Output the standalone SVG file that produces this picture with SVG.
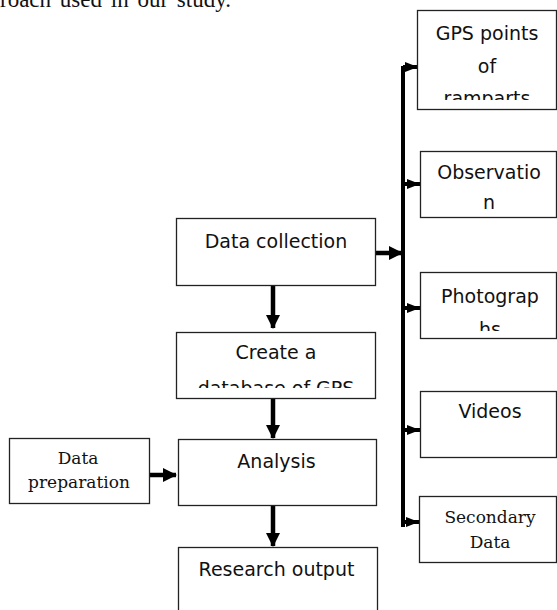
<svg xmlns="http://www.w3.org/2000/svg" width="557" height="610" viewBox="0 0 557 610">
  <style>
    .box { fill: #ffffff; stroke: #222222; stroke-width: 1.3; }
    .lbl { font-family: "DejaVu Sans", "Liberation Sans", sans-serif; font-size: 19px; fill: #111111; text-anchor: middle; }
    .ser { font-family: "DejaVu Serif", "Liberation Serif", serif; font-size: 17px; fill: #111111; text-anchor: middle; }
    .body { font-family: "Liberation Serif", "Times New Roman", serif; font-size: 23px; fill: #111111; word-spacing: 3px; }
    .flow { fill: none; stroke: #000000; stroke-width: 4.5; }
    .bus { fill: none; stroke: #000000; stroke-width: 4; }
  </style>
  <defs>
    <marker id="head" markerUnits="userSpaceOnUse" markerWidth="14" markerHeight="14" refX="13" refY="7" orient="auto">
      <path d="M0,0 L14,7 L0,14 Z" fill="#000000"/>
    </marker>
    <marker id="tick" markerUnits="userSpaceOnUse" markerWidth="13" markerHeight="10" refX="13" refY="5" orient="auto">
      <path d="M0,0 L13,5 L0,10 Z" fill="#000000"/>
    </marker>
    <clipPath id="clip-gps"><rect x="418" y="11" width="138" height="89"/></clipPath>
    <clipPath id="clip-photo"><rect x="421" y="273" width="135" height="58"/></clipPath>
    <clipPath id="clip-db"><rect x="177" y="333" width="197" height="55"/></clipPath>
  </defs>

  <!-- running text line above the figure -->
  <text class="body" x="0" y="7">roach used in our study.</text>

  <g id="connectors">
    <!-- vertical bus feeding the data sources -->
    <path class="bus" d="M403,527 L403,66"/>
    <path class="bus" d="M403,67 L418,67" marker-end="url(#tick)"/>
    <path class="bus" d="M403,184 L420,184" marker-end="url(#tick)"/>
    <path class="bus" d="M403,308 L420,308" marker-end="url(#tick)"/>
    <path class="bus" d="M403,430 L420,430" marker-end="url(#tick)"/>
    <path class="bus" d="M403,522 L419,522" marker-end="url(#tick)"/>
    <!-- main flow -->
    <path class="flow" d="M375,253 L402,253" marker-end="url(#head)"/>
    <path class="flow" d="M273,285 L273,328" marker-end="url(#head)"/>
    <path class="flow" d="M273,398 L273,438" marker-end="url(#head)"/>
    <path class="flow" d="M273,505 L273,546" marker-end="url(#head)"/>
    <path class="flow" d="M149,475 L176,475" marker-end="url(#head)"/>
  </g>

  <g id="gps-points">
    <rect class="box" x="417.5" y="10.5" width="139" height="99"/>
    <g clip-path="url(#clip-gps)">
      <text class="lbl" x="487" y="40">GPS points</text>
      <text class="lbl" x="487" y="73">of</text>
      <text class="lbl" x="487" y="105">ramparts</text>
    </g>
  </g>

  <g id="observation">
    <rect class="box" x="420.5" y="151.5" width="136" height="66"/>
    <text class="lbl" x="489" y="179">Observatio</text>
    <text class="lbl" x="489" y="209">n</text>
  </g>

  <g id="photographs">
    <rect class="box" x="420.5" y="272.5" width="136" height="66"/>
    <g clip-path="url(#clip-photo)">
      <text class="lbl" x="490" y="303">Photograp</text>
      <text class="lbl" x="490" y="336">hs</text>
    </g>
  </g>

  <g id="videos">
    <rect class="box" x="420.5" y="391.5" width="136" height="66"/>
    <text class="lbl" x="490" y="418">Videos</text>
  </g>

  <g id="secondary-data">
    <rect class="box" x="419.5" y="496.5" width="137" height="66"/>
    <text class="ser" x="490" y="523">Secondary</text>
    <text class="ser" x="490" y="547.5">Data</text>
  </g>

  <g id="data-collection">
    <rect class="box" x="176.5" y="218.5" width="199" height="67"/>
    <text class="lbl" x="276" y="248">Data collection</text>
  </g>

  <g id="create-database">
    <rect class="box" x="176.5" y="332.5" width="199" height="66"/>
    <g clip-path="url(#clip-db)">
      <text class="lbl" x="276" y="359">Create a</text>
      <text class="lbl" x="276" y="395">database of GPS</text>
    </g>
  </g>

  <g id="data-preparation">
    <rect class="box" x="9.5" y="438.5" width="140" height="65"/>
    <text class="ser" x="78" y="464">Data</text>
    <text class="ser" x="79" y="488">preparation</text>
  </g>

  <g id="analysis">
    <rect class="box" x="178.5" y="439.5" width="198" height="66"/>
    <text class="lbl" x="276.5" y="468">Analysis</text>
  </g>

  <g id="research-output">
    <rect class="box" x="178.5" y="547.5" width="199" height="80"/>
    <text class="lbl" x="276.5" y="576">Research output</text>
  </g>
</svg>
